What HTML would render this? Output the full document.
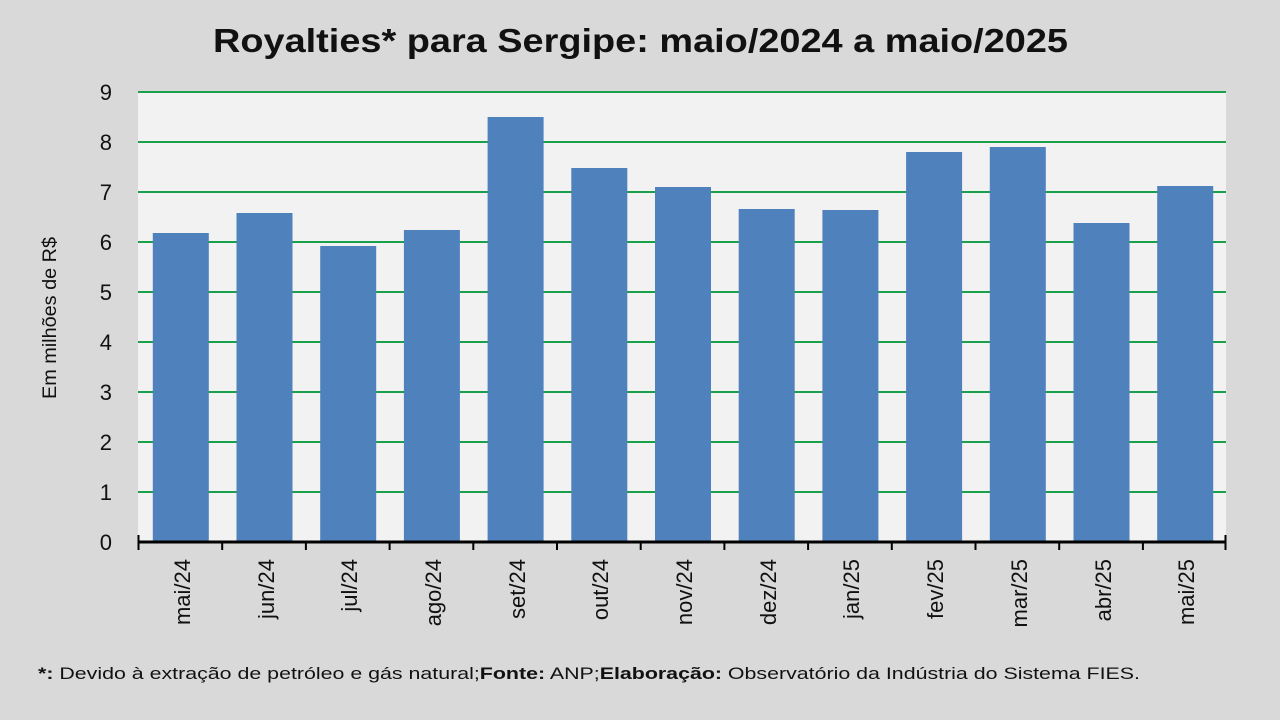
<!DOCTYPE html>
<html><head><meta charset="utf-8"><style>
body{margin:0;width:1280px;height:720px;background:#d9d9d9;overflow:hidden}
svg{display:block}
text{font-family:"Liberation Sans",sans-serif}
</style></head><body>
<svg width="1280" height="720" viewBox="0 0 1280 720" xmlns="http://www.w3.org/2000/svg">
<rect width="1280" height="720" fill="#d9d9d9"/>
<text x="213" y="52" textLength="855" lengthAdjust="spacingAndGlyphs" font-size="33" font-weight="bold" fill="#111">Royalties* para Sergipe: maio/2024 a maio/2025</text>
<rect x="138" y="92" width="1088" height="450" fill="#f2f2f2"/>
<g stroke="#1aa04a" stroke-width="2">
<line x1="138" y1="92" x2="1226" y2="92"/><line x1="138" y1="142" x2="1226" y2="142"/>
<line x1="138" y1="192" x2="1226" y2="192"/><line x1="138" y1="242" x2="1226" y2="242"/>
<line x1="138" y1="292" x2="1226" y2="292"/><line x1="138" y1="342" x2="1226" y2="342"/>
<line x1="138" y1="392" x2="1226" y2="392"/><line x1="138" y1="442" x2="1226" y2="442"/>
<line x1="138" y1="492" x2="1226" y2="492"/>
</g>
<g font-size="22" fill="#111" text-anchor="end">
<text x="112" y="100">9</text><text x="112" y="150">8</text><text x="112" y="200">7</text>
<text x="112" y="250">6</text><text x="112" y="300">5</text><text x="112" y="350">4</text>
<text x="112" y="400">3</text><text x="112" y="450">2</text><text x="112" y="500">1</text>
<text x="112" y="550">0</text>
</g>
<text transform="translate(56,318) rotate(-90)" text-anchor="middle" font-size="19" fill="#111" textLength="162" lengthAdjust="spacingAndGlyphs">Em milhões de R$</text>
<g fill="#4f81bd">
<rect x="152.8" y="233" width="56" height="309"/>
<rect x="236.5" y="213" width="56" height="329"/>
<rect x="320.2" y="246" width="56" height="296"/>
<rect x="403.9" y="230" width="56" height="312"/>
<rect x="487.6" y="117" width="56" height="425"/>
<rect x="571.3" y="168" width="56" height="374"/>
<rect x="655.0" y="187" width="56" height="355"/>
<rect x="738.7" y="209" width="56" height="333"/>
<rect x="822.4" y="210" width="56" height="332"/>
<rect x="906.1" y="152" width="56" height="390"/>
<rect x="989.8" y="147" width="56" height="395"/>
<rect x="1073.5" y="223" width="56" height="319"/>
<rect x="1157.2" y="186" width="56" height="356"/>
</g>
<line x1="138" y1="542" x2="1226" y2="542" stroke="#000" stroke-width="3"/>
<g stroke="#000" stroke-width="2">
<line x1="138.5" y1="535" x2="138.5" y2="550"/><line x1="222.2" y1="542" x2="222.2" y2="550"/>
<line x1="305.9" y1="542" x2="305.9" y2="550"/><line x1="389.6" y1="542" x2="389.6" y2="550"/>
<line x1="473.3" y1="542" x2="473.3" y2="550"/><line x1="557" y1="542" x2="557" y2="550"/>
<line x1="640.7" y1="542" x2="640.7" y2="550"/><line x1="724.4" y1="542" x2="724.4" y2="550"/>
<line x1="808.1" y1="542" x2="808.1" y2="550"/><line x1="891.8" y1="542" x2="891.8" y2="550"/>
<line x1="975.5" y1="542" x2="975.5" y2="550"/><line x1="1059.2" y1="542" x2="1059.2" y2="550"/>
<line x1="1142.9" y1="542" x2="1142.9" y2="550"/><line x1="1225.5" y1="535" x2="1225.5" y2="550"/>
</g>
<g font-size="22" fill="#111" text-anchor="end">
<text transform="translate(190,559) rotate(-90)">mai/24</text>
<text transform="translate(274,559) rotate(-90)">jun/24</text>
<text transform="translate(357,559) rotate(-90)">jul/24</text>
<text transform="translate(441,559) rotate(-90)">ago/24</text>
<text transform="translate(525,559) rotate(-90)">set/24</text>
<text transform="translate(608,559) rotate(-90)">out/24</text>
<text transform="translate(692,559) rotate(-90)">nov/24</text>
<text transform="translate(776,559) rotate(-90)">dez/24</text>
<text transform="translate(859,559) rotate(-90)">jan/25</text>
<text transform="translate(943,559) rotate(-90)">fev/25</text>
<text transform="translate(1027,559) rotate(-90)">mar/25</text>
<text transform="translate(1111,559) rotate(-90)">abr/25</text>
<text transform="translate(1194,559) rotate(-90)">mai/25</text>
</g>
<text x="38" y="679" font-size="17" fill="#111" textLength="1102" lengthAdjust="spacingAndGlyphs"><tspan font-weight="bold">*:</tspan> Devido à extração de petróleo e gás natural;<tspan font-weight="bold">Fonte:</tspan> ANP;<tspan font-weight="bold">Elaboração:</tspan> Observatório da Indústria do Sistema FIES.</text>
</svg>
</body></html>
